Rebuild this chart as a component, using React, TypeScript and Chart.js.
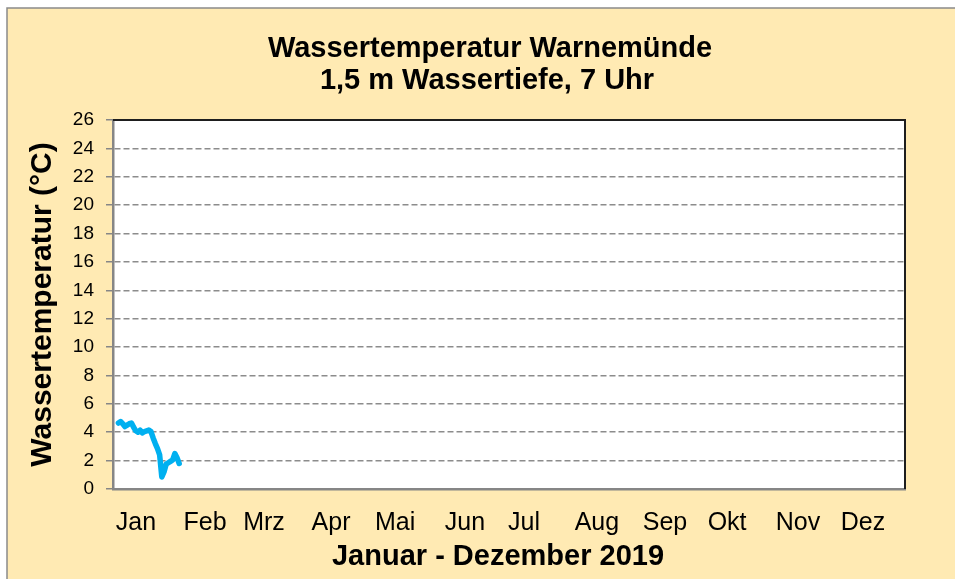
import React, { useEffect, useRef } from "react";
import { Chart, registerables } from "chart.js";

Chart.register(...registerables);

// ---- data ----
const titleLines = ["Wassertemperatur Warnemünde", "1,5 m Wassertiefe, 7 Uhr"];
const xAxisTitle = "Januar - Dezember 2019";
const yAxisTitle = "Wassertemperatur (°C)";

const monthLabels = ["Jan", "Feb", "Mrz", "Apr", "Mai", "Jun", "Jul", "Aug", "Sep", "Okt", "Nov", "Dez"];
// day-of-year position where each month label sits
const monthLabelDays = [10.6, 42.4, 69.6, 100.5, 130, 162.2, 189.4, 223, 254.4, 283, 315.7, 345.6];

const dayOfYear = [3, 4, 5, 6, 7, 8, 9, 10, 11, 12, 13, 14, 15, 16, 17, 18, 19, 20, 21, 22, 23, 24, 25, 26, 27, 28, 29, 30, 31];
const waterTemp = [4.65, 4.75, 4.6, 4.4, 4.5, 4.6, 4.65, 4.35, 4.1, 4.0, 4.15, 3.95, 4.05, 4.1, 4.15, 4.05, 3.6, 3.2, 2.85, 2.4, 0.85, 1.2, 1.75, 1.85, 1.95, 2.05, 2.5, 2.2, 1.8];

const yMin = 0;
const yMax = 26;
const yStep = 2;

const FONT = "'Liberation Sans', Arial, sans-serif";

const decorPlugin = {
  id: "decor",
  beforeDraw(chart: any) {
    const { ctx, width, height } = chart;
    ctx.save();
    ctx.fillStyle = "#FFFFFF";
    ctx.fillRect(0, 0, width, height);
    ctx.fillStyle = "#FFEAB3";
    ctx.fillRect(7, 8, width - 7, height - 8);
    ctx.strokeStyle = "#8a8a8a";
    ctx.lineWidth = 1.5;
    ctx.beginPath();
    ctx.moveTo(7, height);
    ctx.lineTo(7, 8);
    ctx.lineTo(width, 8);
    ctx.stroke();
    const a = chart.chartArea;
    ctx.fillStyle = "#FFFFFF";
    ctx.fillRect(a.left, a.top, a.right - a.left, a.bottom - a.top);
    ctx.restore();
  },
  afterDraw(chart: any) {
    const { ctx } = chart;
    const a = chart.chartArea;
    ctx.save();
    ctx.strokeStyle = "#1e1e1e";
    ctx.lineWidth = 2;
    ctx.beginPath();
    ctx.moveTo(a.left, a.top);
    ctx.lineTo(a.right, a.top);
    ctx.lineTo(a.right, a.bottom);
    ctx.stroke();
    ctx.fillStyle = "#000";
    ctx.font = `bold 29px ${FONT}`;
    ctx.textAlign = "center";
    ctx.textBaseline = "alphabetic";
    ctx.fillText(titleLines[0], 490, 57);
    ctx.fillText(titleLines[1], 487, 88.5);
    ctx.fillText(xAxisTitle, 498, 565);
    ctx.restore();
  },
};

export default function App() {
  const ref = useRef<HTMLCanvasElement | null>(null);

  useEffect(() => {
    if (!ref.current) return;
    const chart = new Chart(ref.current, {
      type: "line",
      data: {
        datasets: [
          {
            data: dayOfYear.map((d, i) => ({ x: d - 0.5, y: waterTemp[i] })),
            borderColor: "#00B0F0",
            backgroundColor: "#00B0F0",
            borderWidth: 5.5,
            pointRadius: 0,
            tension: 0,
            borderJoinStyle: "round",
            borderCapStyle: "round",
            fill: false,
          },
        ],
      },
      plugins: [decorPlugin],
      options: {
        responsive: false,
        animation: false,
        layout: { padding: { left: 0, top: 120, right: 50, bottom: 0 } },
        plugins: {
          legend: { display: false },
          title: { display: false },
          tooltip: { enabled: false },
        },
        scales: {
          x: {
            type: "linear",
            min: 0,
            max: 365,
            afterBuildTicks: (scale: any) => {
              scale.ticks = monthLabelDays.map((v) => ({ value: v }));
            },
            afterFit: (scale: any) => {
              scale.height = 90;
            },
            grid: { display: false, drawTicks: false },
            border: { display: true, color: "#868686", width: 2.5 },
            ticks: {
              autoSkip: false,
              maxRotation: 0,
              padding: 19,
              color: "#000",
              font: { family: FONT, size: 25 },
              callback: (_v: any, i: number) => monthLabels[i],
            },
          },
          y: {
            min: yMin,
            max: yMax,
            afterFit: (scale: any) => {
              scale.width = 113;
            },
            grid: {
              color: "#8c8c8c",
              lineWidth: 1.5,
              tickBorderDash: [],
              tickLength: 7,
              tickColor: "#868686",
            },
            border: { display: true, color: "#868686", width: 2.5, dash: [6, 3] },
            ticks: {
              stepSize: yStep,
              padding: 12,
              color: "#000",
              font: { family: FONT, size: 19 },
            },
            title: {
              display: true,
              text: yAxisTitle,
              color: "#000",
              font: { family: FONT, size: 30, weight: "bold" },
              padding: { top: 25, bottom: 0 },
            },
          },
        },
      },
    });
    return () => chart.destroy();
  }, []);

  return (
    <div style={{ position: "fixed", left: 0, top: 0, width: 955, height: 579, overflow: "hidden" }}>
      <canvas ref={ref} width={955} height={579} />
    </div>
  );
}
